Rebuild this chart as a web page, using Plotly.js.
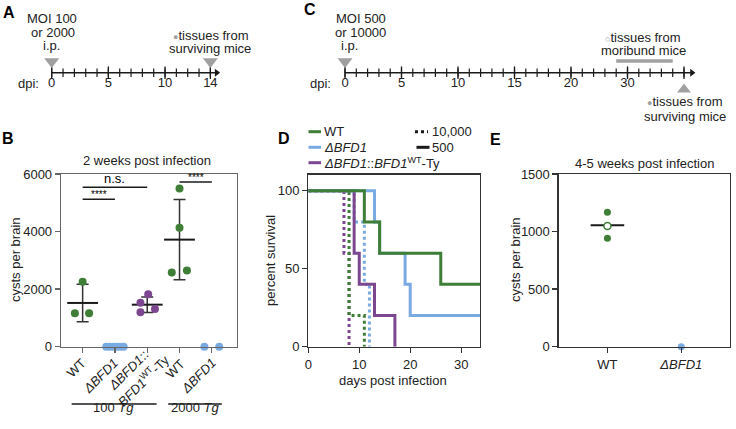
<!DOCTYPE html>
<html>
<head>
<meta charset="utf-8">
<script src="https://cdn.plot.ly/plotly-3.0.1.min.js"></script>
<style>
  html, body { margin: 0; padding: 0; background: #fff; }
  #chart { width: 736px; height: 429px; }
</style>
</head>
<body>
<div id="chart"></div>
<script>
// ---- A: timeline, 14 days ----
const aDays = [0, 1, 2, 3, 4, 5, 6, 7, 8, 9, 10, 11, 12, 13, 14];
const aMajor = [0, 5, 10, 14];
const aLabels = ["0", "5", "10", "14"];
const aEvents = [0, 14];

// ---- C: timeline (axis compressed after 20 dpi) ----
const cDays = [0, 1, 2, 3, 4, 5, 6, 7, 8, 9, 10, 11, 12, 13, 14, 15, 16, 17, 18, 19, 20,
  21, 22, 23, 24, 25, 26, 27, 28, 29, 30];
const cMajor = [0, 5, 10, 15, 20, 25, 30];
const cLabelAt = [0, 5, 10, 15, 20, 25];
const cLabels = ["0", "5", "10", "15", "20", "30"];
const cMoribund = [24, 29];

// ---- B: cysts per brain, 2 weeks ----
const bCats = ["WT", "<i>ΔBFD1</i>", "<i>ΔBFD1</i>::", "WT", "<i>ΔBFD1</i>"];
const bCat2Line2 = "<i>BFD1</i><sup>WT</sup>-Ty";
const bWT100 = [2260, 1160, 1160];
const bKO100 = [0, 0, 0, 0, 0, 0];
const bComp100 = [1530, 1820, 1195, 1310];
const bWT2000 = [5500, 4130, 2580, 2650];
const bKO2000 = [0, 0];
const bMeanCat = [0, 2, 3];
const bMean = [1520, 1460, 3720];
const bSD = [650, 270, 1390];
const bSig = [[0, 1, 5120, "****"], [0, 2, 5540, "n.s."], [3, 4, 5720, "****"]];

// ---- D: survival ----
const wt500T = [0, 11, 14, 26, 34],     wt500S = [100, 80, 60, 40, 40];
const ko500T = [0, 13, 14, 19, 20, 34], ko500S = [100, 80, 60, 40, 20, 20];
const comp500T = [0, 9, 10, 13, 17],    comp500S = [100, 60, 40, 20, 0];
const wt10kT = [0, 8, 11],              wt10kS = [100, 20, 0];
const ko10kT = [0, 9, 11, 12],          ko10kS = [100, 80, 40, 0];
const comp10kT = [0, 7, 8],             comp10kS = [100, 60, 0];

// ---- E: cysts per brain, 4-5 weeks ----
const eCats = ["WT", "<i>ΔBFD1</i>"];
const eWTsurviving = [1168, 942];
const eWTmoribund = [1049];
const eKO = [0];
const eMean = [1055];

// jitter of the dots inside a category (layout only)
const jWT100 = [0, -0.24, 0.2];
const jKO100 = [-0.27, -0.16, -0.05, 0.05, 0.16, 0.27];
const jComp100 = [-0.21, 0.03, -0.21, 0.24];
const jWT2000 = [0, 0, -0.24, 0.23];
const jKO2000 = [-0.23, 0.23];

const W = 736, H = 429;
const px = v => v / W;
const py = v => 1 - v / H;
const FONT = "Liberation Sans, Arial, Helvetica, sans-serif";
const GREEN = "#3e7e36", BLUE = "#79aae2", PURPLE = "#7c4790", GRAY = "#a0a0a0", INK = "#1a1a1a";

let data = [];
let shapes = [];
let annotations = [];

function note(text, x, y, opts) {
  annotations.push(Object.assign({
    text: text, x: x, y: y, xref: "paper", yref: "paper",
    showarrow: false, xanchor: "center", yanchor: "middle"
  }, opts || {}));
}

// timelines use a pixel y axis (y4) and a day axis each (x4, x5)
function timeline(xa, days, major, labelAt, labels, lineEnd) {
  data.push({ x: [0, lineEnd], y: [72.7, 72.7], mode: "lines", line: { color: INK, width: 1.5 },
    xaxis: xa, yaxis: "y4", hoverinfo: "skip" });
  data.push({ x: [lineEnd + 0.1], y: [72.7], mode: "markers", marker: { symbol: "triangle-right", size: 7, color: INK },
    xaxis: xa, yaxis: "y4", hoverinfo: "skip" });
  data.push({ x: days, y: days.map(() => 72.7), mode: "markers",
    marker: { symbol: "line-ns", size: 6, line: { width: 1.2, color: INK } },
    xaxis: xa, yaxis: "y4", hoverinfo: "skip" });
  data.push({ x: major, y: major.map(() => 72.7), mode: "markers",
    marker: { symbol: "line-ns", size: 9, line: { width: 1.3, color: INK } },
    xaxis: xa, yaxis: "y4", hoverinfo: "skip" });
  data.push({ x: labelAt, y: labelAt.map(() => 83.5), mode: "text", text: labels,
    textfont: { size: 13, color: "#222" }, xaxis: xa, yaxis: "y4", hoverinfo: "skip" });
}

timeline("x4", aDays, aMajor, aMajor, aLabels, 14.45);
data.push({ x: aEvents, y: [61.5, 61.5], mode: "markers", marker: { symbol: "triangle-down", size: 13, color: GRAY },
  xaxis: "x4", yaxis: "y4", hoverinfo: "skip" });

timeline("x5", cDays, cMajor, cLabelAt, cLabels, 30.6);
data.push({ x: [0], y: [61.5], mode: "markers", marker: { symbol: "triangle-down", size: 13, color: GRAY },
  xaxis: "x5", yaxis: "y4", hoverinfo: "skip" });
data.push({ x: [30], y: [89.5], mode: "markers", marker: { symbol: "triangle-up", size: 12, color: GRAY },
  xaxis: "x5", yaxis: "y4", hoverinfo: "skip" });
data.push({ x: cMoribund, y: [61, 61], mode: "lines", line: { color: GRAY, width: 3.5 },
  xaxis: "x5", yaxis: "y4", hoverinfo: "skip" });

const dot = '<span style="color:#a0a0a0;font-size:9px">●</span>';
const ring = '<span style="color:#a0a0a0;font-size:9px">○</span>';
note("MOI 100", px(52), py(19));
note("or 2000", px(53), py(32));
note("i.p.", px(51.5), py(45));
note(dot + "tissues from", px(211), py(35));
note("surviving mice", px(210), py(48.3));
note("dpi:", px(28), py(83.5));

note("MOI 500", px(361), py(19));
note("or 10000", px(360.5), py(32));
note("i.p.", px(349.5), py(45));
note(ring + "tissues from", px(643), py(37.5));
note("moribund mice", px(643), py(50.7));
note(dot + "tissues from", px(685), py(101.5));
note("surviving mice", px(685), py(117));
note("dpi:", px(320), py(83.5));

// ---- B ----
function dots(cat, vals, jit, color, xa, ya, size) {
  return { x: vals.map((v, i) => cat + jit[i]), y: vals, mode: "markers", cliponaxis: false,
    marker: { color: color, size: size }, xaxis: xa, yaxis: ya, hoverinfo: "skip" };
}
data.push({ x: bMeanCat, y: bMean, mode: "markers", cliponaxis: false,
  marker: { symbol: "line-ew", size: 22, line: { width: 2, color: INK } },
  error_y: { type: "data", array: bSD, color: "#333", thickness: 1.5, width: 6 },
  xaxis: "x", yaxis: "y", hoverinfo: "skip" });
data.push(dots(0, bWT100, jWT100, GREEN, "x", "y", 8));
data.push(dots(1, bKO100, jKO100, BLUE, "x", "y", 8));
data.push(dots(2, bComp100, jComp100, PURPLE, "x", "y", 8));
data.push(dots(3, bWT2000, jWT2000, GREEN, "x", "y", 8));
data.push(dots(4, bKO2000, jKO2000, BLUE, "x", "y", 8));

bSig.forEach(s => {
  shapes.push({ type: "line", xref: "x", yref: "y", x0: s[0], x1: s[1], y0: s[2], y1: s[2],
    line: { color: INK, width: 1.5 } });
  annotations.push({ text: s[3], xref: "x", yref: "y", x: (s[0] + s[1]) / 2, y: s[2],
    yanchor: "bottom", showarrow: false, yshift: s[3] === "n.s." ? -1 : -3,
    font: { size: s[3] === "n.s." ? 13 : 10, color: "#000" } });
});

// rotated category labels of B (placed at their tick, shifted along the slant)
const bLabelShift = [[0, -7, 368], [1, -14, 375.5], [2, -19.5, 370], [3, -5, 369], [4, -13, 375.5]];
bLabelShift.forEach(s => {
  annotations.push({ text: bCats[s[0]], xref: "x", yref: "paper", x: s[0], xshift: s[1], y: py(s[2]),
    textangle: -45, showarrow: false, xanchor: "center", yanchor: "middle" });
});
annotations.push({ text: bCat2Line2, xref: "x", yref: "paper", x: 2, xshift: -4, y: py(380),
  textangle: -45, showarrow: false, xanchor: "center", yanchor: "middle" });

shapes.push({ type: "line", xref: "x", yref: "paper", x0: -0.34, x1: 2.29, y0: py(404), y1: py(404),
  line: { color: INK, width: 1.5 } });
shapes.push({ type: "line", xref: "x", yref: "paper", x0: 2.65, x1: 4.31, y0: py(404), y1: py(404),
  line: { color: INK, width: 1.5 } });
annotations.push({ text: "100 <i>Tg</i>", xref: "x", yref: "paper", x: 0.97, y: py(416.5), showarrow: false });
annotations.push({ text: "2000 <i>Tg</i>", xref: "x", yref: "paper", x: 3.48, y: py(416.5), showarrow: false });

note("2 weeks post infection", px(147), py(160));
note("cysts per brain", px(15), py(260), { textangle: -90 });

// ---- D ----
function step(t, s, color, dash) {
  return { x: t, y: s, mode: "lines", line: { shape: "hv", color: color, width: 3, dash: dash },
    xaxis: "x2", yaxis: "y2", hoverinfo: "skip" };
}
data.push(step(comp10kT, comp10kS, PURPLE, "dot"));
data.push(step(ko10kT, ko10kS, BLUE, "dot"));
data.push(step(wt10kT, wt10kS, GREEN, "dot"));
data.push(step(comp500T, comp500S, PURPLE, "solid"));
data.push(step(ko500T, ko500S, BLUE, "solid"));
data.push(step(wt500T, wt500S, GREEN, "solid"));

note("percent survival", px(270), py(261), { textangle: -90 });
note("days post infection", px(393), py(380));

// legend of D
const legRows = [
  [131.7, GREEN, "WT"],
  [147.3, BLUE, "<i>ΔBFD1</i>"],
  [162.7, PURPLE, "<i>ΔBFD1</i>::<i>BFD1</i><sup>WT</sup>-Ty"]
];
legRows.forEach(r => {
  shapes.push({ type: "line", xref: "paper", yref: "paper", x0: px(308.5), x1: px(321), y0: py(r[0]), y1: py(r[0]),
    line: { color: r[1], width: 3 } });
  note(r[2], px(322), py(r[0]), { xanchor: "left" });
});
shapes.push({ type: "line", xref: "paper", yref: "paper", x0: px(415), x1: px(428), y0: py(131.7), y1: py(131.7),
  line: { color: INK, width: 3, dash: "dot" } });
note("10,000", px(430), py(131.7), { xanchor: "left" });
shapes.push({ type: "line", xref: "paper", yref: "paper", x0: px(416.5), x1: px(429.5), y0: py(147.3), y1: py(147.3),
  line: { color: INK, width: 3 } });
note("500", px(430), py(147.3), { xanchor: "left" });

// ---- E ----
data.push({ x: [0], y: eMean, mode: "markers", marker: { symbol: "line-ew", size: 24, line: { width: 2, color: INK } },
  xaxis: "x3", yaxis: "y3", hoverinfo: "skip" });
data.push({ x: eWTsurviving.map(() => 0), y: eWTsurviving, mode: "markers", marker: { color: GREEN, size: 7 },
  xaxis: "x3", yaxis: "y3", hoverinfo: "skip" });
data.push({ x: eWTmoribund.map(() => 0), y: eWTmoribund, mode: "markers",
  marker: { color: "#fff", size: 7, line: { color: GREEN, width: 1.5 } },
  xaxis: "x3", yaxis: "y3", hoverinfo: "skip" });
data.push({ x: eKO.map(() => 1), y: eKO, mode: "markers", cliponaxis: false, marker: { color: BLUE, size: 7 },
  xaxis: "x3", yaxis: "y3", hoverinfo: "skip" });

note("4-5 weeks post infection", px(644), py(163));
note("cysts per brain", px(515), py(260), { textangle: -90 });

// panel letters
[["A", 9, 12], ["C", 310, 10], ["B", 8, 138], ["D", 284, 138], ["E", 495, 139]].forEach(l => {
  note("<b>" + l[0] + "</b>", px(l[1]), py(l[2]), { font: { size: 16, color: "#000" } });
});

function frame(extra, color) {
  return Object.assign({
    showline: true, mirror: true, linecolor: color, linewidth: 1.3,
    ticks: "outside", ticklen: 5, tickwidth: 1.3, tickcolor: color,
    showgrid: false, zeroline: false, fixedrange: true,
    tickfont: { size: 13, color: "#222" }
  }, extra);
}

const hidden = { visible: false, showgrid: false, zeroline: false, fixedrange: true };

var layout = {
  width: W,
  height: H,
  margin: { l: 0, r: 0, t: 0, b: 0 },
  paper_bgcolor: "#fff",
  plot_bgcolor: "rgba(0,0,0,0)",
  showlegend: false,
  font: { family: FONT, size: 13, color: "#222" },
  xaxis: frame({ domain: [px(61), px(237)], range: [-0.67, 4.78], anchor: "y",
    tickvals: [0, 1, 2, 3, 4], showticklabels: false }, "#666"),
  yaxis: frame({ domain: [py(346.7), py(174)], range: [0, 6000], anchor: "x",
    tickvals: [0, 2000, 4000, 6000] }, "#666"),
  xaxis2: frame({ domain: [px(308.3), px(480)], range: [0, 33.7], anchor: "y2",
    tickvals: [0, 10, 20, 30] }, "#333"),
  yaxis2: frame({ domain: [py(346.7), py(174.7)], range: [0, 110.3], anchor: "x2",
    tickvals: [0, 50, 100] }, "#333"),
  xaxis3: frame({ domain: [px(558.7), px(730)], range: [-0.66, 1.66], anchor: "y3",
    tickvals: [0, 1], ticktext: eCats }, "#333"),
  yaxis3: frame({ domain: [py(346.7), py(174)], range: [0, 1500], anchor: "x3",
    tickvals: [0, 500, 1000, 1500] }, "#333"),
  xaxis4: Object.assign({ domain: [0, px(220)], range: [-4.563, 14.85], anchor: "y4" }, hidden),
  xaxis5: Object.assign({ domain: [px(290), px(700)], range: [-4.867, 31.416], anchor: "y4" }, hidden),
  yaxis4: Object.assign({ domain: [0, 1], range: [H, 0], anchor: "x4" }, hidden),
  shapes: shapes,
  annotations: annotations
};

Plotly.newPlot("chart", data, layout, { displayModeBar: false, staticPlot: true });
</script>
</body>
</html>
